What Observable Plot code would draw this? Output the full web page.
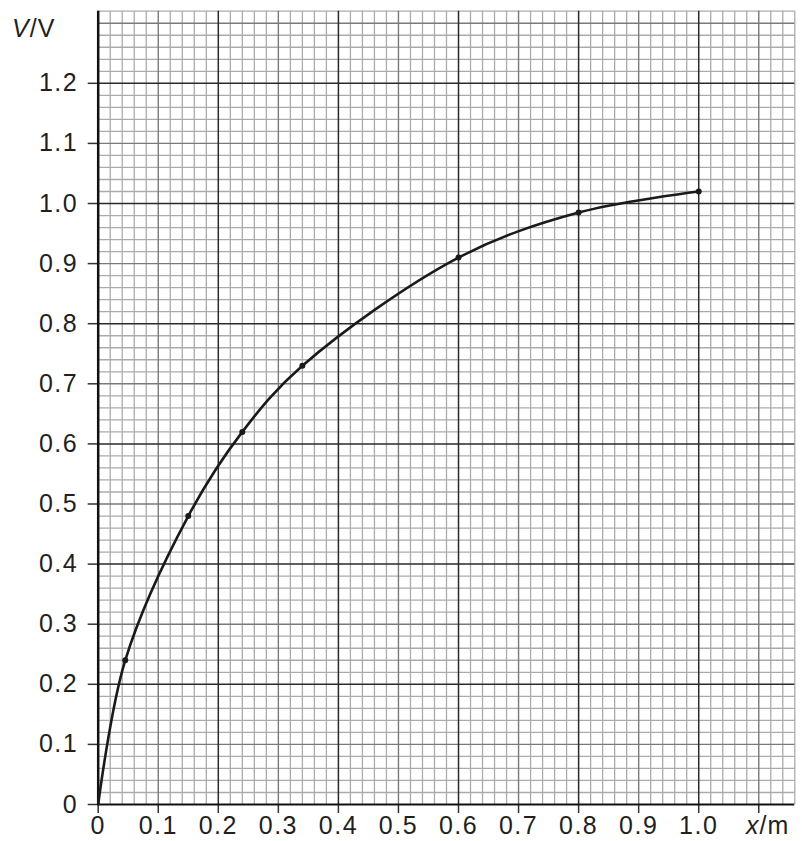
<!DOCTYPE html>
<html>
<head>
<meta charset="utf-8">
<script src="https://cdn.jsdelivr.net/npm/d3@7"></script>
<script src="https://cdn.jsdelivr.net/npm/@observablehq/plot@0.6"></script>
<style>
  html, body { margin: 0; padding: 0; background: #fff; }
  #chart { width: 802px; height: 841px; }
</style>
</head>
<body>
<div id="chart"></div>
<script>
// Measured points (x in m, V in V)
const xValues = [0.045, 0.15, 0.24, 0.34, 0.60, 0.80, 1.00];
const vValues = [0.24, 0.48, 0.62, 0.73, 0.91, 0.985, 1.02];
// Curve starts at origin
const curveX = [0, ...xValues];
const curveV = [0, ...vValues];
// Axis ticks
const xTicks = [0, 0.1, 0.2, 0.3, 0.4, 0.5, 0.6, 0.7, 0.8, 0.9, 1.0, 1.1];
const xTickLabels = ["0", "0.1", "0.2", "0.3", "0.4", "0.5", "0.6", "0.7", "0.8", "0.9", "1.0", ""];
const yTicks = [0, 0.1, 0.2, 0.3, 0.4, 0.5, 0.6, 0.7, 0.8, 0.9, 1.0, 1.1, 1.2];
const yTickLabels = ["0", "0.1", "0.2", "0.3", "0.4", "0.5", "0.6", "0.7", "0.8", "0.9", "1.0", "1.1", "1.2"];
const xMax = 1.16, yMax = 1.32, gridStep = 0.02;

const points = xValues.map((x, i) => ({x, v: vValues[i]}));
const curve = curveX.map((x, i) => ({x, v: curveV[i]}));

const nx = Math.round(xMax / gridStep), ny = Math.round(yMax / gridStep);
const gx = d3.range(nx + 1).map(i => ({i, v: +(i * gridStep).toFixed(2)}));
const gy = d3.range(ny + 1).map(i => ({i, v: +(i * gridStep).toFixed(2)}));
const minorX = gx.filter(d => d.i % 5 !== 0).map(d => d.v);
const midX = gx.filter(d => d.i % 5 === 0 && d.i % 10 !== 0).map(d => d.v);
const majX = gx.filter(d => d.i % 10 === 0 && d.i !== 0).map(d => d.v);
const minorY = gy.filter(d => d.i % 5 !== 0).map(d => d.v);
const midY = gy.filter(d => d.i % 5 === 0 && d.i % 10 !== 0).map(d => d.v);
const majY = gy.filter(d => d.i % 10 === 0 && d.i !== 0).map(d => d.v);

const fmt = (ticks, labels) => d => { const k = ticks.findIndex(t => Math.abs(t - d) < 1e-9); return k >= 0 ? labels[k] : ""; };

const FONT = "'Liberation Sans', Arial, sans-serif";
const FS = 25;
const plot = Plot.plot({
  width: 802,
  height: 841,
  marginLeft: 97.7,
  marginRight: 7.7,
  marginTop: 10.7,
  marginBottom: 37,
  style: {fontFamily: FONT, fontSize: FS + "px", color: "#231f20", background: "#fff"},
  x: {domain: [0, xMax], label: null},
  y: {domain: [0, yMax], label: null},
  marks: [
    Plot.ruleX(minorX, {y1: 0, y2: yMax, stroke: "#ababab", strokeWidth: 1.3}),
    Plot.ruleY(minorY, {x1: 0, x2: xMax, stroke: "#ababab", strokeWidth: 1.3}),
    Plot.ruleX(midX, {y1: 0, y2: yMax, stroke: "#7a7a7a", strokeWidth: 1.4}),
    Plot.ruleY(midY, {x1: 0, x2: xMax, stroke: "#7a7a7a", strokeWidth: 1.4}),
    Plot.ruleX(majX, {y1: 0, y2: yMax, stroke: "#2a2a2a", strokeWidth: 1.5}),
    Plot.ruleY(majY, {x1: 0, x2: xMax, stroke: "#2a2a2a", strokeWidth: 1.5}),
    Plot.axisX({ticks: xTicks, tickFormat: fmt(xTicks, xTickLabels), tickSize: 9, tickPadding: 3, fontSize: FS, fontFamily: FONT, stroke: "#333", strokeWidth: 1.5, fill: "#231f20"}),
    Plot.axisY({ticks: yTicks, tickFormat: fmt(yTicks, yTickLabels), tickSize: 10, tickPadding: 10, fontSize: FS, fontFamily: FONT, stroke: "#333", strokeWidth: 1.5, fill: "#231f20"}),
    Plot.ruleX([0], {y1: 0, y2: yMax, stroke: "#111", strokeWidth: 2.5}),
    Plot.ruleY([0], {x1: 0, x2: xMax, stroke: "#111", strokeWidth: 2.2}),
    Plot.line(curve, {x: "x", y: "v", curve: "catmull-rom", stroke: "#1a1a1a", strokeWidth: 2.6}),
    Plot.dot(points, {x: "x", y: "v", r: 3, fill: "#1a1a1a", stroke: "none"})
  ]
});

const svg = d3.select(plot);
svg.selectAll("[aria-label='x-axis tick label'] text, [aria-label='y-axis tick label'] text")
  .style("letter-spacing", "1.5px");
// Axis titles with italic quantity symbols
const yt = svg.append("text").attr("x", 12).attr("y", 37).attr("fill", "#231f20")
  .attr("text-anchor", "start").style("font-size", FS + "px").style("font-family", FONT).style("letter-spacing", "1px");
yt.append("tspan").style("font-style", "italic").text("V");
yt.append("tspan").text("/V");
const xt = svg.append("text").attr("x", 746).attr("y", 834).attr("fill", "#231f20")
  .attr("text-anchor", "start").style("font-size", FS + "px").style("font-family", FONT).style("letter-spacing", "1px");
xt.append("tspan").style("font-style", "italic").text("x");
xt.append("tspan").text("/m");

document.getElementById("chart").appendChild(plot);
</script>
</body>
</html>
